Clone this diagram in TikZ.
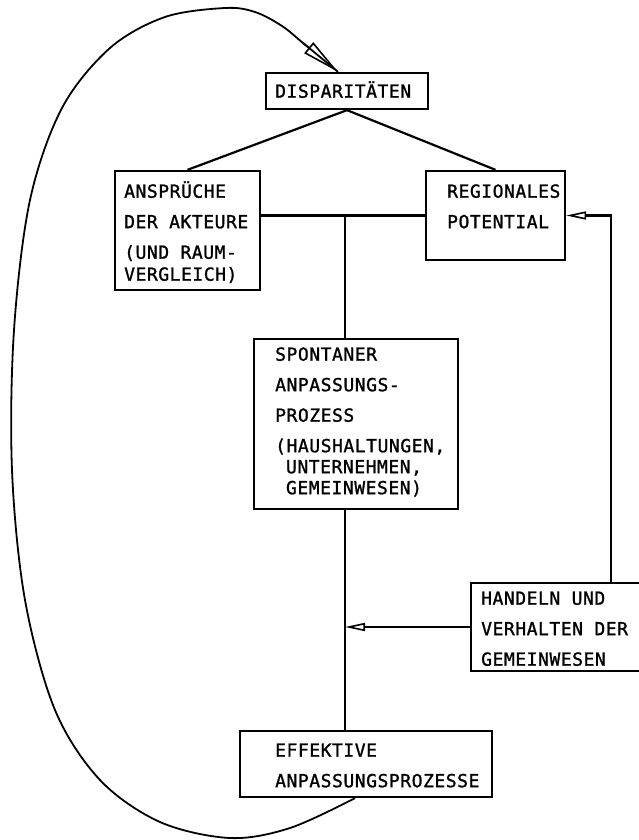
\documentclass[tikz,border=0pt]{standalone}
\usepackage{fontspec}
\newfontfamily\plotter{DejaVu Sans Mono}[LetterSpace=3,FakeBold=1.2]
\usetikzlibrary{arrows.meta,fit}
\begin{document}
\begin{tikzpicture}[x=1pt,y=-1pt,
  boxst/.style={draw, line width=2.3pt, inner sep=0pt},
  lbl/.style={anchor=north west, inner sep=0pt, align=left,
    font=\plotter\fontsize{18}{30.5}\selectfont},
  conn/.style={line width=2.2pt},
  tip/.style={-{Triangle[open,length=20pt,width=8pt,line width=1.6pt]}},
  bigtip/.style={-{Triangle[open,length=38pt,width=14pt,line width=1.6pt]}}
]
\useasboundingbox (0,0) rectangle (638,840);

% boxes
\node[boxst, fit={(266,73) (428,109)}] (D) {};
\node[boxst, fit={(115,171) (260,290)}] (A) {};
\node[boxst, fit={(426,171) (565,260)}] (R) {};
\node[boxst, fit={(254,339) (458,509)}] (S) {};
\node[boxst, fit={(471,583) (660,671)}] (H) {};
\node[boxst, fit={(240,731) (492,797)}] (E) {};

% labels
\node[lbl] (tD) at (275,77.5) {\rule{0pt}{20pt}DISPARITÄTEN};
\node[lbl] (tA) at (124,177.5) {\rule{0pt}{20pt}ANSPRÜCHE\\DER AKTEURE\\(UND RAUM-\\[-8.5pt]VERGLEICH)};
\node[lbl] (tR) at (447,177.5) {\rule{0pt}{20pt}REGIONALES\\POTENTIAL};
\node[lbl] (tS) at (275,340.5) {\rule{0pt}{20pt}SPONTANER\\ANPASSUNGS-\\PROZESS\\(HAUSHALTUNGEN,\\[-9.5pt]\phantom{(}UNTERNEHMEN,\\[-9.5pt]\phantom{(}GEMEINWESEN)};
\node[lbl] (tH) at (481,584.5) {\rule{0pt}{20pt}HANDELN UND\\VERHALTEN DER\\GEMEINWESEN};
\node[lbl] (tE) at (275,736.5) {\rule{0pt}{20pt}EFFEKTIVE\\ANPASSUNGSPROZESSE};

% connectors
\draw[conn] (D.south) -- (A.north);
\draw[conn] (D.south) -- (R.north);
\coordinate (J) at (345,215.5);
\coordinate (K) at (611,215.5);
\draw[conn] (A.east |- R.west) -- (R.west);
\draw[conn] (J) -- (J |- S.north);
\draw[conn] (J |- S.south) -- (J |- E.north);
\draw[conn,tip] (H.west) -- (H.west -| J);
\draw[conn,tip] (H.north -| K) |- (R.east);

% feedback loop
\coordinate (ls) at ([xshift=-11pt]E.south);
\coordinate (le) at ([xshift=-9pt]D.north);
\coordinate (ab) at (303,43);
\draw[line width=1.8pt] plot[smooth, tension=0.55] coordinates {(ls) (290,828) (230,838) (160,822) (100,780) (55,710) (25,600) (12,470) (14,330) (30,200) (62,108) (110,48) (165,17) (225,8) (255,12) (282,26) (ab) (le)};
\draw[line width=1.8pt, bigtip] (ab) -- (le);
\end{tikzpicture}
\end{document}
